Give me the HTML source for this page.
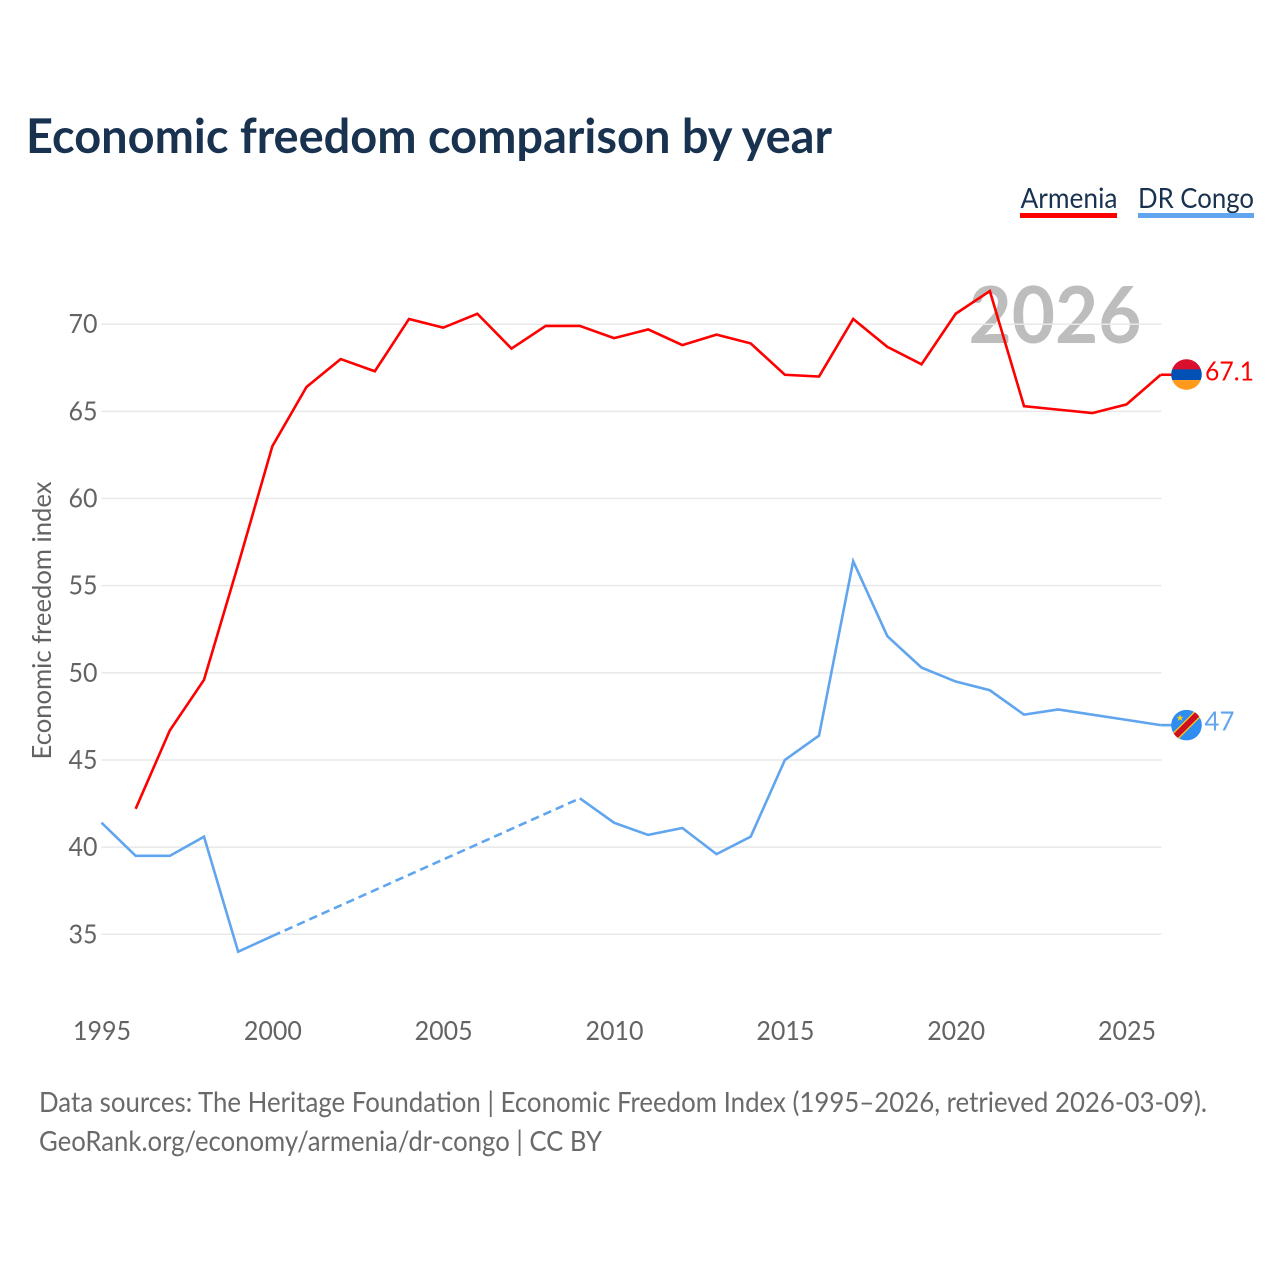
<!DOCTYPE html>
<html lang="en">
<head>
<meta charset="utf-8">
<title>Economic freedom comparison by year</title>
<style>
html,body{margin:0;padding:0;background:#fff;width:1280px;height:1280px;overflow:hidden}
svg{display:block}
text{font-family:"Lato","Carlito","Liberation Sans",sans-serif}
</style>
</head>
<body>
<svg id="chart" xmlns="http://www.w3.org/2000/svg" width="1280" height="1280" viewBox="0 0 1280 1280">
<defs>
<clipPath id="flag-clip-am"><circle id="clip-am" r="15.3"></circle></clipPath>
<clipPath id="flag-clip-cd"><circle id="clip-cd" r="15.3"></circle></clipPath>
</defs>
<rect width="1280" height="1280" fill="#fff"></rect>
<text x="26" y="153" font-size="48" font-weight="700" fill="#18324f" textLength="806" lengthAdjust="spacingAndGlyphs">Economic freedom comparison by year</text>
<g>
<text x="1020.5" y="208" font-size="28" fill="#18324f" textLength="97" lengthAdjust="spacingAndGlyphs">Armenia</text>
<rect x="1020" y="213" width="97" height="5" fill="#ff0000"></rect>
</g>
<g>
<text x="1138" y="208" font-size="28" fill="#18324f" textLength="116" lengthAdjust="spacingAndGlyphs">DR Congo</text>
<rect x="1138" y="213" width="116" height="5" fill="#60a5ee"></rect>
</g>
<text x="968.5" y="343" font-size="79" font-weight="700" fill="#bdbdbd" textLength="173" lengthAdjust="spacingAndGlyphs">2026</text>
<g id="grid"></g>
<g id="y-axis"></g>
<g id="x-axis"></g>
<text transform="translate(51,620.5) rotate(-90)" text-anchor="middle" font-size="26" fill="#636363" textLength="278" lengthAdjust="spacingAndGlyphs">Economic freedom index</text>
<g id="series"></g>
<g id="end-markers"></g>
<text x="39" y="1112" font-size="28" fill="#6a6a6a" textLength="1168" lengthAdjust="spacingAndGlyphs">Data sources: The Heritage Foundation | Economic Freedom Index (1995–2026, retrieved 2026-03-09).</text>
<text x="39" y="1151" font-size="28" fill="#6a6a6a" textLength="563" lengthAdjust="spacingAndGlyphs">GeoRank.org/economy/armenia/dr-congo | CC BY</text>
</svg>
<script>
const years = [1995,1996,1997,1998,1999,2000,2001,2002,2003,2004,2005,2006,2007,2008,2009,2010,2011,2012,2013,2014,2015,2016,2017,2018,2019,2020,2021,2022,2023,2024,2025,2026];
const armeniaValues = [null,42.2,46.7,49.6,56.2,63.0,66.4,68.0,67.3,70.3,69.8,70.6,68.6,69.9,69.9,69.2,69.7,68.8,69.4,68.9,67.1,67.0,70.3,68.7,67.7,70.6,71.9,65.3,65.1,64.9,65.4,67.1];
const drCongoValues = [41.4,39.5,39.5,40.6,34.0,34.9,null,null,null,null,null,null,null,null,42.8,41.4,40.7,41.1,39.6,40.6,45.0,46.4,56.4,52.1,50.3,49.5,49.0,47.6,47.9,47.6,47.3,47.0];
const yTicks = [35,40,45,50,55,60,65,70];
const xTicks = [1995,2000,2005,2010,2015,2020,2025];

const NS = 'http://www.w3.org/2000/svg';
const xScale = function (year) { return 101.5 + (year - 1995) * (1059.2 / 31); };
const yScale = function (value) { return 324.2 + (70 - value) * (610.1 / 35); };
const make = function (tag, parent) {
  const el = document.createElementNS(NS, tag);
  parent.appendChild(el);
  return el;
};
const set = function (el, props) {
  Object.keys(props).forEach(function (k) { el.setAttribute(k, props[k]); });
  return el;
};

const grid = document.getElementById('grid');
const yAxis = document.getElementById('y-axis');
const xAxis = document.getElementById('x-axis');
const series = document.getElementById('series');
const markers = document.getElementById('end-markers');

yTicks.forEach(function (tick) {
  const line = make('line', grid);
  
  
  set(line, {x1: 101.5, x2: 1161.5, y1: yScale(tick), y2: yScale(tick), stroke: '#e8e8e8', 'stroke-width': 1.5});
  const label = make('text', yAxis);
  
  
  set(label, {x: 68.5, y: yScale(tick) + 9, 'font-size': 26, fill: '#636363', textLength: 29, lengthAdjust: 'spacingAndGlyphs'});
  label.textContent = String(tick);
});

xTicks.forEach(function (tick) {
  const label = make('text', xAxis);
  
  
  set(label, {x: xScale(tick) - 28.5, y: 1040, 'font-size': 26, fill: '#636363', textLength: 58, lengthAdjust: 'spacingAndGlyphs'});
  label.textContent = String(tick);
});

function drawSeries(values, color, name) {
  let run = [];
  let prev = null;
  const flush = function () {
    if (run.length > 1) {
      const solid = make('polyline', series);
      
      
      set(solid, {points: run.join(' '), fill: 'none', stroke: color, 'stroke-width': 2.6, 'stroke-linejoin': 'miter'});
    }
    run = [];
  };
  values.forEach(function (v, i) {
    if (v === null) { flush(); return; }
    if (prev !== null && prev !== i - 1) {
      const gap = make('line', series);
      
      
      set(gap, {x1: xScale(years[prev]), y1: yScale(values[prev]), x2: xScale(years[i]), y2: yScale(v), stroke: color, 'stroke-width': 2.6, 'stroke-dasharray': '8.5 5'});
    }
    run.push(xScale(years[i]) + ',' + yScale(v));
    prev = i;
  });
  flush();
  const last = values[values.length - 1];
  const connector = make('line', series);
  
  
  set(connector, {x1: xScale(2026), x2: 1172, y1: yScale(last), y2: yScale(last), stroke: color, 'stroke-width': 2.6});
}
drawSeries(armeniaValues, '#ff0000', 'armenia');
drawSeries(drCongoValues, '#60a5ee', 'dr-congo');

/* Armenia end marker */
const amLast = armeniaValues[armeniaValues.length - 1];
const amY = yScale(amLast) - 0.2;
const amCx = 1186.5;
set(document.getElementById('clip-am'), {cx: amCx, cy: amY});
const amFlag = make('g', markers);


amFlag.setAttribute('clip-path', 'url(#flag-clip-am)');
[['#d90f2e', -16, 11], ['#0050b5', -5.2, 10.7], ['#ff9a1c', 5.5, 11]].forEach(function (band) {
  const r = make('rect', amFlag);
  
  
  set(r, {x: amCx - 16, y: amY + band[1], width: 32, height: band[2], fill: band[0]});
});
const amText = make('text', markers);


set(amText, {x: 1205, y: amY + 6, 'font-size': 26, fill: '#ff0000', textLength: 49, lengthAdjust: 'spacingAndGlyphs'});
amText.textContent = String(amLast);

/* DR Congo end marker */
const cdLast = drCongoValues[drCongoValues.length - 1];
const cdY = yScale(cdLast);
const cdCx = 1186.5;
set(document.getElementById('clip-cd'), {cx: cdCx, cy: cdY});
const cdFlag = make('g', markers);


cdFlag.setAttribute('clip-path', 'url(#flag-clip-cd)');
const cdBg = make('rect', cdFlag);


set(cdBg, {x: cdCx - 16, y: cdY - 16, width: 32, height: 32, fill: '#2f8cf0'});
const cdYellow = make('line', cdFlag);


set(cdYellow, {x1: cdCx - 16, y1: cdY + 16, x2: cdCx + 16, y2: cdY - 16, stroke: '#f7d118', 'stroke-width': 8.5});
const cdRed = make('line', cdFlag);


set(cdRed, {x1: cdCx - 16, y1: cdY + 16, x2: cdCx + 16, y2: cdY - 16, stroke: '#ce1021', 'stroke-width': 6});
const cdStar = make('polygon', cdFlag);


set(cdStar, {points: '0,-3.6 1,-1.1 3.6,-1.1 1.5,0.5 2.3,3 0,1.5 -2.3,3 -1.5,0.5 -3.6,-1.1 -1,-1.1', transform: 'translate(' + (cdCx - 6.5) + ',' + (cdY - 7.2) + ')', fill: '#f7d118'});
const cdText = make('text', markers);


set(cdText, {x: 1204.5, y: cdY + 5.5, 'font-size': 26, fill: '#60a5ee', textLength: 30, lengthAdjust: 'spacingAndGlyphs'});
cdText.textContent = String(cdLast);
</script>
</body>
</html>
